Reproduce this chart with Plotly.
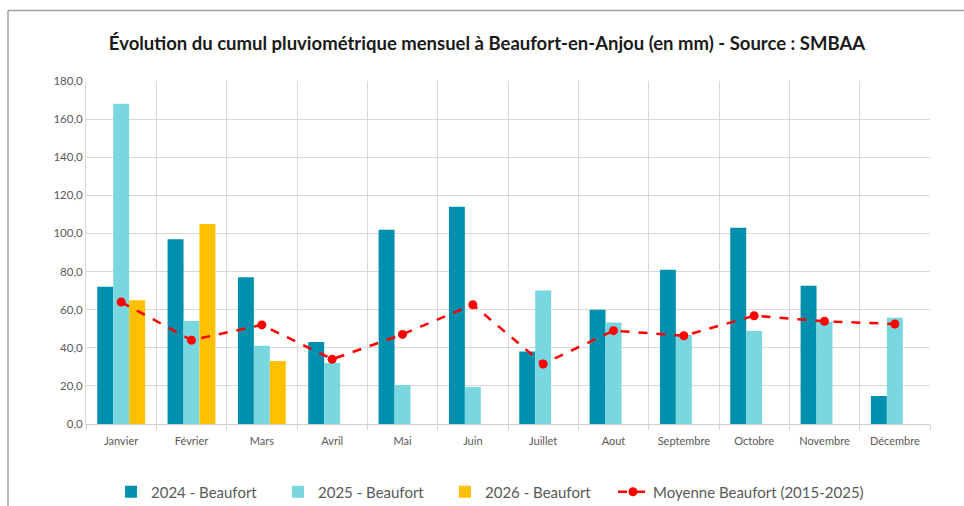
import plotly.graph_objects as go

mois = ["Janvier", "Février", "Mars", "Avril", "Mai", "Juin", "Juillet", "Aout",
        "Septembre", "Octobre", "Novembre", "Décembre"]
v2024 = [72, 97, 77, 43, 102, 114, 38, 60, 81, 103, 72.6, 14.7]
v2025 = [168, 54, 41, 32, 20.5, 19.4, 70, 53.3, 46.7, 48.8, 53.7, 55.8]
v2026 = [65, 105, 33, None, None, None, None, None, None, None, None, None]
moyenne = [64, 44, 52, 34, 47, 62.6, 31.5, 49, 46.3, 56.8, 53.9, 52.5]
yticks = [0, 20, 40, 60, 80, 100, 120, 140, 160, 180]

fig = go.Figure()
fig.add_trace(go.Bar(x=mois, y=v2024, name="2024 - Beaufort", marker_color="#0090AD",
                     marker_line_width=0))
fig.add_trace(go.Bar(x=mois, y=v2025, name="2025 - Beaufort", marker_color="#79D7E0",
                     marker_line_width=0))
fig.add_trace(go.Bar(x=mois, y=v2026, name="2026 - Beaufort", marker_color="#FFC000",
                     marker_line_width=0))
fig.add_trace(go.Scatter(x=mois, y=moyenne, name="Moyenne Beaufort (2015-2025)",
                         mode="lines+markers", legend="legend2",
                         line=dict(color="#FF0000", width=2.5, dash="dash"),
                         marker=dict(color="#FF0000", size=9)))

fig.update_layout(
    width=964, height=506,
    paper_bgcolor="white", plot_bgcolor="white",
    margin=dict(l=86, r=34, t=81, b=82, autoexpand=False),
    separators=", ",
    barmode="group", bargap=0.32, bargroupgap=0,
    font=dict(family="Lato, Open Sans, sans-serif", color="#595959"),
    title=dict(text="<b>Évolution du cumul pluviométrique mensuel à Beaufort-en-Anjou (en mm) - Source : SMBAA</b>",
               x=487 / 964, xref="container", xanchor="center", yref="container",
               y=1 - 44 / 506, yanchor="middle",
               font=dict(size=18.5, color="#1a1a1a", family="Lato, sans-serif")),
    legend=dict(orientation="h", xref="container", yref="container",
                x=111 / 964, xanchor="left", y=1 - 492 / 506, yanchor="middle",
                font=dict(size=15, color="#595959"), itemwidth=30,
                entrywidth=122, entrywidthmode="pixels", tracegroupgap=0),
    legend2=dict(orientation="h", xref="container", yref="container",
                 x=613 / 964, xanchor="left", y=1 - 492 / 506, yanchor="middle",
                 font=dict(size=15, color="#595959"), itemwidth=30),
    showlegend=True,
)
fig.update_xaxes(type="category", range=[-0.5, 11.5], tickson="boundaries", showgrid=True,
                 gridcolor="#D9D9D9", gridwidth=1, showline=True, linecolor="#D0D0D0",
                 linewidth=1, ticks="outside", ticklen=5, tickcolor="#D0D0D0",
                 automargin=False, ticklabelstandoff=7,
                 tickfont=dict(size=11, color="#595959"))
fig.update_yaxes(range=[0, 180], tickvals=yticks, tickformat=".1f", showgrid=True,
                 gridcolor="#D9D9D9", gridwidth=1, showline=True, linecolor="#D9D9D9",
                 zeroline=False, ticks="", automargin=False,
                 tickfont=dict(size=11.5, color="#595959"))

# frame of the original image
fig.add_shape(type="line", xref="paper", yref="paper", x0=(8 - 86) / 844, x1=1.1,
              y0=(424 - 10.5) / 343, y1=(424 - 10.5) / 343,
              line=dict(color="#A0A0A0", width=1.5))
fig.add_shape(type="line", xref="paper", yref="paper", x0=(8 - 86) / 844, x1=(8 - 86) / 844,
              y0=(424 - 10.5) / 343, y1=-0.3,
              line=dict(color="#A0A0A0", width=1.5))

fig.write_html("out.html", config={"displayModeBar": False},
               post_script="document.body.style.margin='0';")
